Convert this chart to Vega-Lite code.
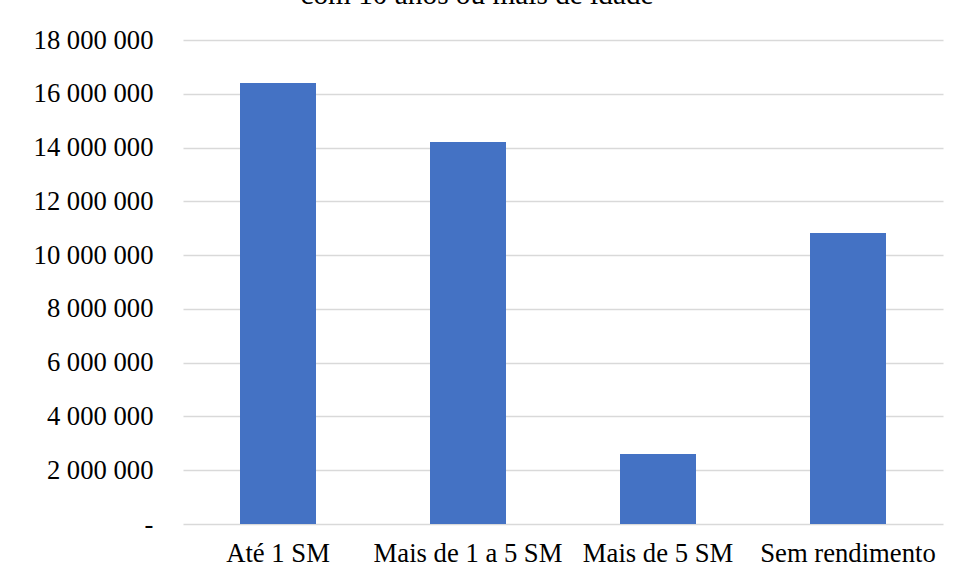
{
  "$schema": "https://vega.github.io/schema/vega-lite/v6.json",
  "width": 760,
  "height": 484,
  "autosize": {"type": "none"},
  "padding": {"left": 183, "top": 40, "right": 11, "bottom": 56},
  "background": "white",
  "title": {
    "text": "com 10 anos ou mais de idade",
    "font": "Liberation Serif",
    "fontSize": 29.3,
    "fontWeight": "normal",
    "color": "#000000",
    "anchor": "middle",
    "frame": "group",
    "baseline": "alphabetic",
    "dx": -86,
    "dy": 6,
    "offset": 0
  },
  "data": {
    "values": [
      {"faixa": "Até 1 SM", "pessoas": 16400000},
      {"faixa": "Mais de 1 a 5 SM", "pessoas": 14210000},
      {"faixa": "Mais de 5 SM", "pessoas": 2600000},
      {"faixa": "Sem rendimento", "pessoas": 10820000}
    ]
  },
  "mark": {"type": "bar", "color": "#4472C4"},
  "encoding": {
    "x": {
      "field": "faixa",
      "type": "nominal",
      "sort": null,
      "scale": {"paddingInner": 0.6, "paddingOuter": 0.3},
      "axis": {
        "title": null,
        "labelAngle": 0,
        "domain": false,
        "ticks": false,
        "labelPadding": 16,
        "labelLimit": 0,
        "labelFont": "Liberation Serif",
        "labelFontSize": 26.67,
        "labelColor": "#000000"
      }
    },
    "y": {
      "field": "pessoas",
      "type": "quantitative",
      "scale": {"domain": [0, 18000000], "nice": false},
      "axis": {
        "title": null,
        "values": [0, 2000000, 4000000, 6000000, 8000000, 10000000, 12000000, 14000000, 16000000, 18000000],
        "labelExpr": "datum.value == 0 ? '-' : format(datum.value, ',d')",
        "domain": false,
        "ticks": false,
        "labelPadding": 30,
        "labelFont": "Liberation Serif",
        "labelFontSize": 26.67,
        "labelColor": "#000000",
        "gridColor": "#d9d9d9",
        "gridWidth": 1.5
      }
    }
  },
  "config": {
    "locale": {
      "number": {
        "decimal": ",",
        "thousands": " ",
        "grouping": [3],
        "currency": ["", ""]
      }
    },
    "view": {"stroke": null}
  }
}
